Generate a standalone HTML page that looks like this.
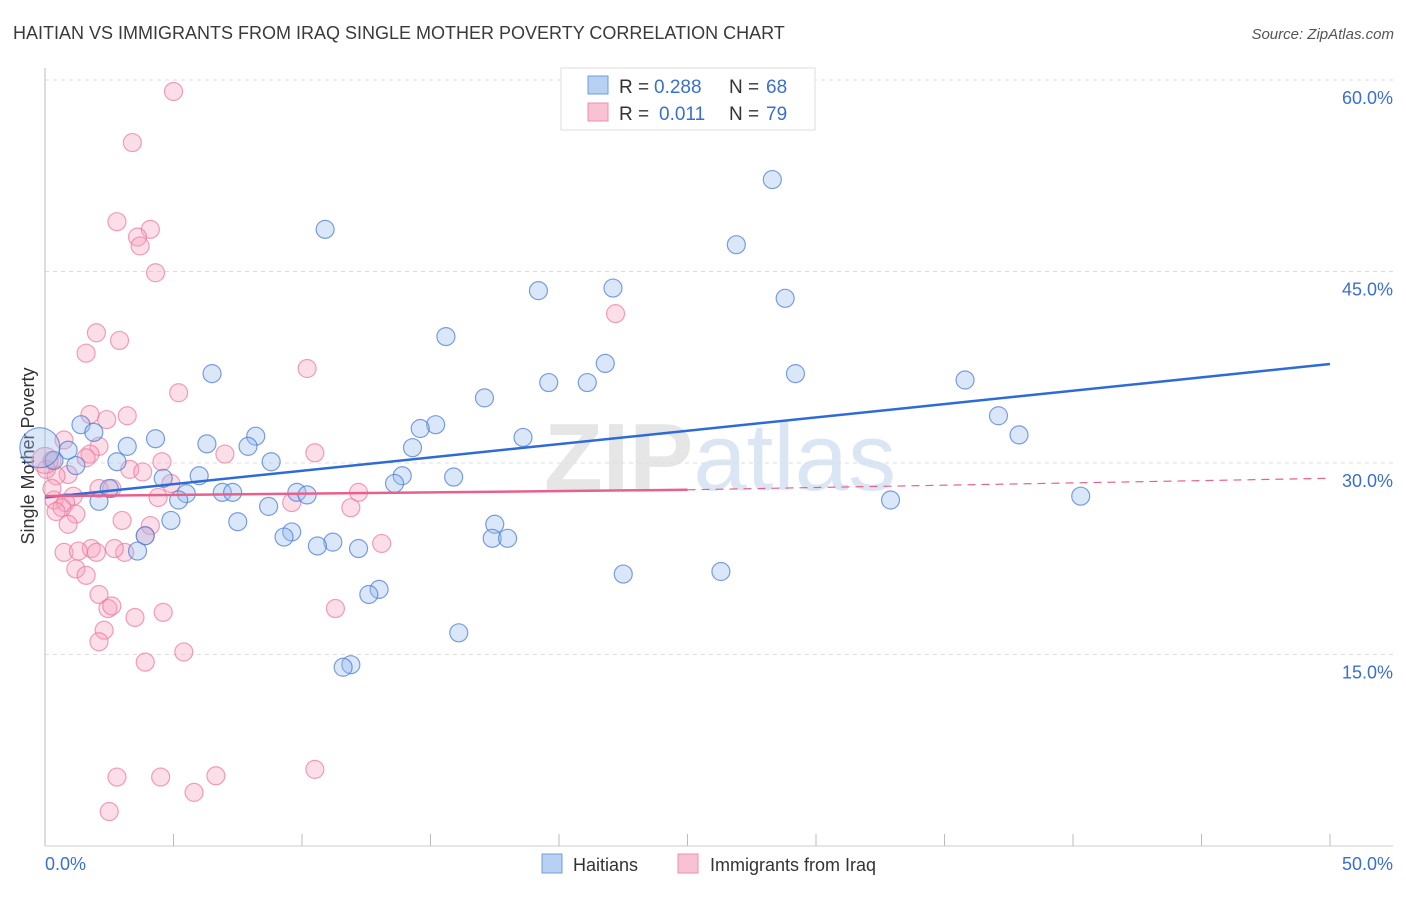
<!DOCTYPE html>
<html><head><meta charset="utf-8"><style>
body{margin:0;background:#fff;font-family:"Liberation Sans",sans-serif}
svg text{font-family:"Liberation Sans",sans-serif}
</style></head><body>
<svg id="chart" width="1406" height="892" xmlns="http://www.w3.org/2000/svg">
<text x="13" y="39" font-size="18" fill="#3a3a3a">HAITIAN VS IMMIGRANTS FROM IRAQ SINGLE MOTHER POVERTY CORRELATION CHART</text>
<text x="1394" y="39" font-size="15" fill="#555" text-anchor="end" font-style="italic">Source: ZipAtlas.com</text>
<text x="720" y="490" font-size="96" fill="#e6e6e6" text-anchor="middle" font-family="Liberation Serif" font-weight="bold">ZIP<tspan fill="#dbe6f5" font-family="Liberation Sans" font-weight="normal">atlas</tspan></text>
<text transform="translate(34,456) rotate(-90)" font-size="18" fill="#333" text-anchor="middle">Single Mother Poverty</text>
<g id="grid"></g><g id="pts"></g><g id="trend"></g>
<g>
<rect x="561" y="68" width="254" height="62" fill="#fff" stroke="#ddd"/>
<rect x="588" y="76" width="20" height="18" fill="#b8d0f2" stroke="#6e9de0"/>
<rect x="588" y="103" width="20" height="18" fill="#f9c2d2" stroke="#ee90ad"/>
<text x="619" y="93" font-size="19" fill="#333">R =</text>
<text x="654" y="93" font-size="19" fill="#3a6fd0">0.288</text>
<text x="729" y="93" font-size="19" fill="#333">N =</text>
<text x="766" y="93" font-size="19" fill="#3a6fd0">68</text>
<text x="619" y="120" font-size="19" fill="#333">R =</text>
<text x="659" y="120" font-size="19" fill="#3a6fd0">0.011</text>
<text x="729" y="120" font-size="19" fill="#333">N =</text>
<text x="766" y="120" font-size="19" fill="#3a6fd0">79</text>
</g>
<g>
<rect x="542" y="854" width="20" height="19" fill="#b8d0f2" stroke="#6e9de0"/>
<text x="573" y="871" font-size="18" fill="#333">Haitians</text>
<rect x="678" y="854" width="20" height="19" fill="#f9c2d2" stroke="#ee90ad"/>
<text x="710" y="871" font-size="18" fill="#333">Immigrants from Iraq</text>
</g>
</svg>
<script>
const yTicks=[15,30,45,60];
const yTickLabels=["15.0%","30.0%","45.0%","60.0%"];
const xTickLabels=["0.0%","50.0%"];
const blueX=[28.3,10.9,26.9,19.2,22.1,28.8,15.6,6.5,21.8,29.2,19.6,21.1,35.8,17.1,37.1,37.9,15.2,14.6,1.4,1.9,4.3,3.2,6.3,8.2,7.9,14.3,18.6,0.9,0.35,1.2,2.8,8.8,6.0,4.6,13.9,15.9,13.6,2.5,5.5,6.9,7.3,9.8,10.2,2.1,5.2,8.7,32.9,40.3,4.9,7.5,17.5,9.6,9.3,17.4,18.0,11.2,10.6,12.2,3.9,3.6,22.5,26.3,13.0,12.6,16.1,11.9,11.6,-0.2];
const blueY=[52.2,48.3,47.1,43.5,43.7,42.9,39.9,37.0,37.8,37.0,36.3,36.3,36.5,35.1,33.7,32.2,33.0,32.7,33.0,32.4,31.9,31.3,31.5,32.1,31.3,31.2,32.0,31.0,30.2,29.8,30.1,30.1,29.0,28.8,29.0,28.9,28.4,28.0,27.6,27.7,27.7,27.7,27.5,27.0,27.1,26.6,27.1,27.4,25.5,25.4,25.2,24.6,24.2,24.1,24.1,23.8,23.5,23.3,24.3,23.1,21.3,21.5,20.1,19.7,16.7,14.2,14.0,31.2];
const pinkX=[5.0,3.4,2.8,4.1,3.6,3.7,4.3,22.2,2.0,2.9,1.6,10.2,5.2,1.75,3.2,2.4,0.74,2.1,1.75,1.6,7.0,10.5,4.55,0.27,3.3,3.8,0.9,0.43,4.9,2.1,2.6,12.2,1.1,4.4,0.35,0.8,9.6,11.9,0.66,1.2,3.0,0.9,4.1,3.9,1.8,0.74,1.3,2.0,3.1,2.7,13.1,1.2,1.6,2.1,2.45,2.6,4.6,11.3,3.5,2.3,2.1,5.4,3.9,2.8,4.5,6.65,10.5,5.8,2.5,0.27,0.05,0.43,0.0];
const pinkY=[59.1,55.1,48.9,48.3,47.7,47.0,44.9,41.7,40.2,39.6,38.6,37.4,35.5,33.8,33.7,33.4,31.8,31.3,30.7,30.4,30.7,30.8,30.1,30.2,29.5,29.3,29.1,29.0,28.4,28.0,28.0,27.7,27.4,27.3,27.1,26.9,26.9,26.5,26.5,26.0,25.5,25.2,25.1,24.3,23.3,23.0,23.1,23.0,23.0,23.3,23.7,21.7,21.2,19.7,18.6,18.8,18.3,18.6,17.9,16.9,16.0,15.2,14.4,5.4,5.4,5.5,6.0,4.2,2.7,28.0,29.5,26.2,30.2];
const blueTrend=[27.3,37.75];
const pinkTrend=[27.4,27.9,28.8];
const X=v=>45+v*25.7, Y=v=>846-v*12.767;
const NS="http://www.w3.org/2000/svg";
function mk(t,a,p){const e=document.createElementNS(NS,t);for(const k in a)e.setAttribute(k,a[k]);p.appendChild(e);return e;}
const g=document.getElementById('grid');
yTicks.forEach((t,i)=>{
 const l=mk('line',{x1:45,x2:1393,y1:Y(t),y2:Y(t),stroke:'#ddd','stroke-dasharray':'4,4'},g);
 
 
 const tx=mk('text',{x:1393,y:Y(t)+24,'font-size':18,fill:'#3a6fd0','text-anchor':'end'},g);tx.textContent=yTickLabels[i];
 
 
});
mk('line',{x1:45,x2:45,y1:68,y2:846,stroke:'#bbb'},g);
mk('line',{x1:45,x2:1393,y1:846,y2:846,stroke:'#ccc'},g);
for(let i=0;i<=10;i++){mk('line',{x1:X(i*5),x2:X(i*5),y1:834,y2:846,stroke:'#bbb'},g);}
[0,50].forEach((v,i)=>{const t=mk('text',{x:i?1393:45,y:870,'font-size':18,fill:'#3a6fd0','text-anchor':i?'end':'start'},g);t.textContent=xTickLabels[i];
 
 });
const p=document.getElementById('pts');
pinkX.forEach((v,i)=>{const c=mk('circle',{cx:X(v),cy:Y(pinkY[i]),r:i==pinkX.length-1?13:9,fill:'rgba(246,160,188,0.35)',stroke:'rgba(236,120,155,0.7)','stroke-width':1.2},p);
 
 });
blueX.forEach((v,i)=>{const c=mk('circle',{cx:X(v),cy:Y(blueY[i]),r:i==blueX.length-1?20:9,fill:'rgba(150,185,235,0.35)',stroke:'rgba(70,120,210,0.7)','stroke-width':1.2},p);
 
 });
const tr=document.getElementById('trend');
const b=mk('line',{x1:X(0),y1:Y(blueTrend[0]),x2:X(50),y2:Y(blueTrend[1]),stroke:'#2e6bd6','stroke-width':2.5},tr);


const pk=mk('line',{x1:X(0),y1:Y(pinkTrend[0]),x2:X(25),y2:Y(pinkTrend[1]),stroke:'#e8608c','stroke-width':2.5},tr);


const pd=mk('line',{x1:X(25),y1:Y(pinkTrend[1]),x2:X(50),y2:Y(pinkTrend[2]),stroke:'#e8608c','stroke-width':1.2,'stroke-dasharray':'8,6'},tr);


</script>
</body></html>
